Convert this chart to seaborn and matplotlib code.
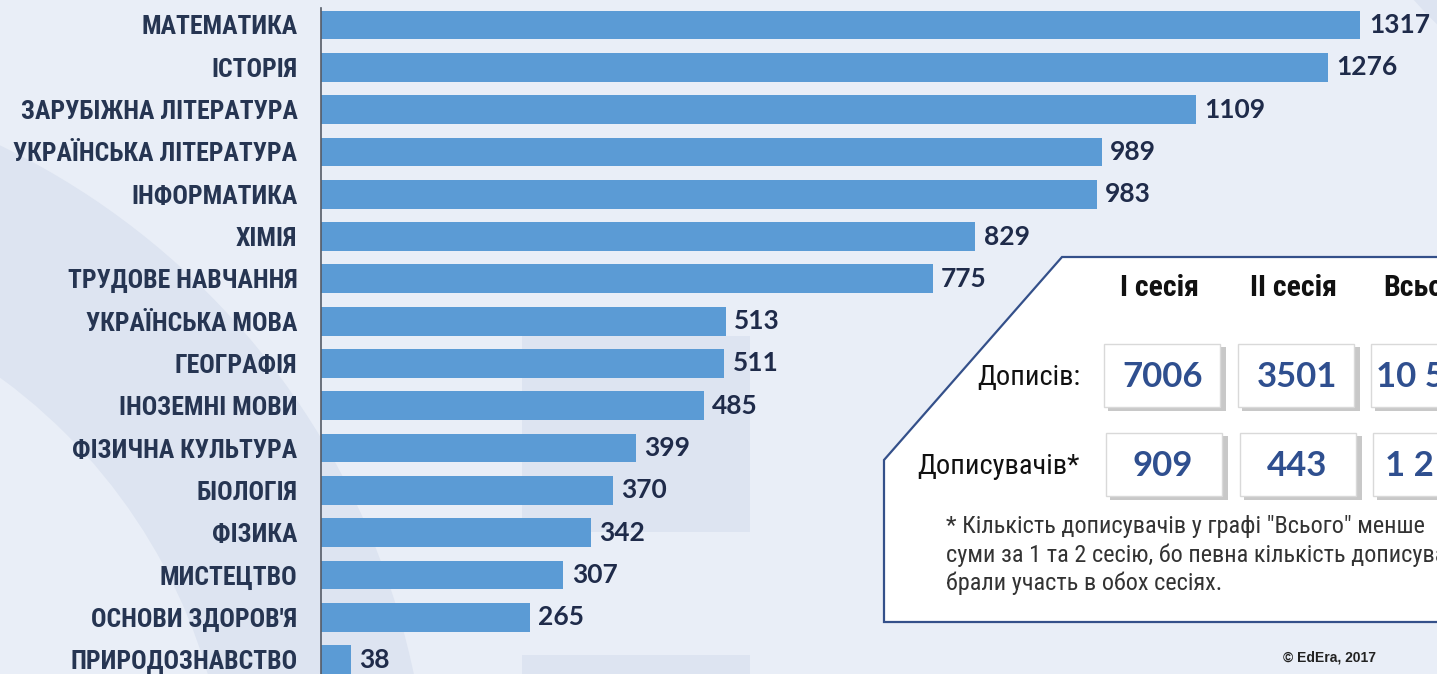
import matplotlib
matplotlib.use("Agg")
import matplotlib.pyplot as plt
import seaborn as sns
import pandas as pd
from matplotlib.patches import Polygon, Rectangle, Circle

# subjects and number of posts
subjects = ["МАТЕМАТИКА", "ІСТОРІЯ", "ЗАРУБІЖНА ЛІТЕРАТУРА", "УКРАЇНСЬКА ЛІТЕРАТУРА",
            "ІНФОРМАТИКА", "ХІМІЯ", "ТРУДОВЕ НАВЧАННЯ", "УКРАЇНСЬКА МОВА", "ГЕОГРАФІЯ",
            "ІНОЗЕМНІ МОВИ", "ФІЗИЧНА КУЛЬТУРА", "БІОЛОГІЯ", "ФІЗИКА", "МИСТЕЦТВО",
            "ОСНОВИ ЗДОРОВ'Я", "ПРИРОДОЗНАВСТВО"]
posts = [1317, 1276, 1109, 989, 983, 829, 775, 513, 511, 485, 399, 370, 342, 307, 265, 38]

# summary table
sessions = ["І сесія", "ІІ сесія", "Всього"]
row_names = ["Дописів:", "Дописувачів*"]
row_posts = ["7006", "3501", "10 507"]
row_authors = ["909", "443", "1 2"]
footnote = ['* Кількість дописувачів у графі "Всього" менше',
            "суми за 1 та 2 сесію, бо певна кількість дописувачів",
            "брали участь в обох сесіях."]

df = pd.DataFrame({"subject": subjects, "posts": posts})

W, H = 1437, 674
bg = "#e9eef7"
navy = "#1f2b4a"
narrow = ["Liberation Sans Narrow", "Roboto Condensed", "DejaVu Sans"]

fig = plt.figure(figsize=(W / 100, H / 100), dpi=100, facecolor=bg)

# faint background decoration
deco = fig.add_axes([0, 0, 1, 1], zorder=0)
deco.set_xlim(0, W)
deco.set_ylim(H, 0)
deco.axis("off")
deco.add_patch(Circle((-330, 830), 760, color="#dde4f1", lw=0))
deco.add_patch(Circle((-330, 830), 560, color=bg, lw=0))
deco.add_patch(Rectangle((522, 336), 228, 196, color="#dde4f1", lw=0))
deco.add_patch(Rectangle((522, 655), 228, 30, color="#dde4f1", lw=0))
deco.add_patch(Circle((1700, -250), 380, color="#dde4f1", lw=0))

ax = fig.add_axes([321 / W, 0, 1 - 321 / W, 1], zorder=1)
ax.patch.set_alpha(0)
sns.barplot(data=df, x="posts", y="subject", orient="h", color="#5b9bd5",
            saturation=1, width=0.68, ax=ax)
ax.set_xlim(0, 1414)
ax.set_ylim(15.34, -0.59)
ax.set_xlabel("")
ax.set_ylabel("")
ax.set_xticks([])
for s in ["top", "right", "bottom"]:
    ax.spines[s].set_visible(False)
ax.spines["left"].set_color("#555b66")
ax.spines["left"].set_linewidth(1.2)
ax.spines["left"].set_bounds(15.4, -0.4)
ax.tick_params(axis="y", length=0, pad=17)
for t in ax.get_yticklabels():
    t.set_fontfamily(narrow)
    t.set_fontstretch("condensed")
    t.set_fontweight("bold")
    t.set_fontsize(18.5)
    t.set_color("#263552")
ax.bar_label(ax.containers[0], padding=6, fontsize=19, fontweight="bold",
             color=navy, family=["Lato", "DejaVu Sans"])

# summary panel
ov = fig.add_axes([0, 0, 1, 1], zorder=2)
ov.set_xlim(0, W)
ov.set_ylim(H, 0)
ov.axis("off")
ov.add_patch(Polygon([(1062, 257), (1445, 257), (1445, 622), (884, 622), (884, 460)],
                     closed=True, facecolor="white", edgecolor="#34508a", lw=1.6))

col_x = [1163, 1297, 1430]
for cx, s in zip(col_x, sessions):
    ov.text(cx - 4, 288, s, ha="center", va="center", fontsize=21.5, fontweight="bold",
            family=narrow, fontstretch="condensed", color="#111111")

row_y = [377, 466]
for ry, name, vals in zip(row_y, row_names, [row_posts, row_authors]):
    ov.text(1080, ry, name, ha="right", va="center", fontsize=20.5, family=narrow,
            fontstretch="condensed", color="#111111")
    for cx, v in zip(col_x, vals):
        x0 = cx - 59 + (2 if ry > 400 else 0)
        ov.add_patch(Rectangle((x0 + 4, ry - 30), 118, 64, color="#c8c8c8", lw=0))
        ov.add_patch(Rectangle((x0, ry - 33), 116, 63, facecolor="white",
                               edgecolor="#d9d9d9", lw=1))
        tx = cx if v != "1 2" else x0 + 12
        ov.text(tx, ry, v, ha="center" if v != "1 2" else "left", va="center",
                fontsize=25, fontweight="bold", family=["Lato", "DejaVu Sans"],
                color="#2f4f8f")

for i, line in enumerate(footnote):
    ov.text(946, 527 + 28 * i, line, ha="left", va="center", fontsize=17.5,
            family=narrow, fontstretch="condensed", color="#333333")

ov.text(1283, 657, "© EdEra, 2017", ha="left", va="center", fontsize=10,
        fontweight="bold", family=["Liberation Sans", "DejaVu Sans"], color="#222222")

fig.savefig("out.png", dpi=100, facecolor=bg)
